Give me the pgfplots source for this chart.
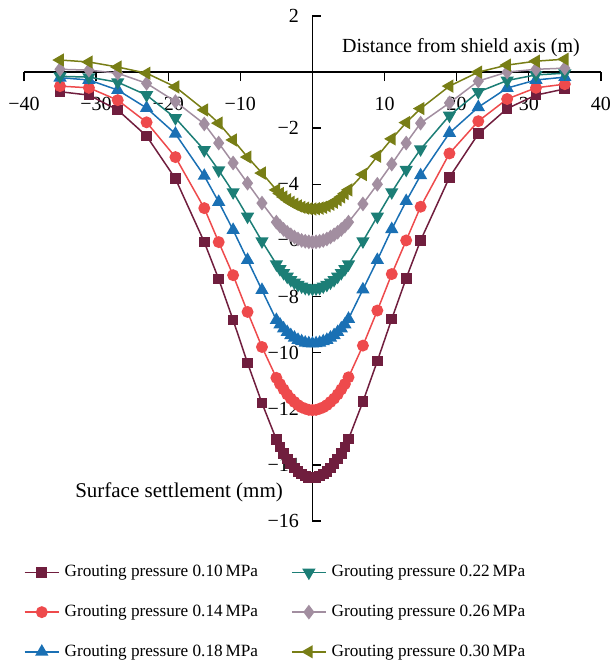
\documentclass[border=0pt]{standalone}
\usepackage{fontspec}
\setmainfont{Liberation Serif}
\usepackage{pgfplots}
\usepackage{pgfplotstable}
\pgfplotsset{compat=1.18}
\definecolor{cA}{RGB}{112,30,62}
\definecolor{cB}{RGB}{238,74,76}
\definecolor{cC}{RGB}{26,112,180}
\definecolor{cD}{RGB}{28,126,118}
\definecolor{cE}{RGB}{162,142,160}
\definecolor{cF}{RGB}{120,126,22}

\pgfplotstableread{
x a b c d e f
-35 -0.70 -0.50 -0.20 -0.15 0.10 0.43
-31 -0.82 -0.56 -0.28 -0.18 0.07 0.36
-27 -1.35 -1.00 -0.64 -0.36 -0.04 0.18
-23 -2.28 -1.79 -1.28 -0.82 -0.40 -0.04
-19 -3.80 -3.03 -2.20 -1.64 -1.05 -0.53
-15 -6.06 -4.85 -3.70 -2.78 -1.85 -1.35
-13 -7.38 -6.06 -4.63 -3.50 -2.53 -1.82
-11 -8.84 -7.24 -5.63 -4.28 -3.24 -2.42
-9 -10.37 -8.55 -6.70 -5.15 -3.96 -3.03
-7 -11.80 -9.80 -7.77 -6.03 -4.67 -3.60
-5 -13.10 -10.90 -8.84 -6.85 -5.35 -4.20
-4.5 -13.36 -11.12 -9.00 -7.02 -5.49 -4.33
-4 -13.59 -11.31 -9.14 -7.16 -5.61 -4.45
-3.5 -13.79 -11.49 -9.27 -7.29 -5.71 -4.55
-3 -13.96 -11.64 -9.38 -7.41 -5.80 -4.64
-2.5 -14.11 -11.76 -9.47 -7.50 -5.88 -4.71
-2 -14.23 -11.87 -9.55 -7.58 -5.95 -4.77
-1.5 -14.33 -11.95 -9.60 -7.64 -6.00 -4.82
-1 -14.40 -12.00 -9.65 -7.69 -6.03 -4.85
-0.5 -14.44 -12.04 -9.67 -7.71 -6.05 -4.87
0 -14.45 -12.05 -9.68 -7.72 -6.06 -4.88
0.5 -14.44 -12.04 -9.67 -7.71 -6.05 -4.87
1 -14.40 -12.00 -9.65 -7.69 -6.03 -4.85
1.5 -14.33 -11.95 -9.60 -7.64 -6.00 -4.82
2 -14.23 -11.87 -9.55 -7.58 -5.95 -4.77
2.5 -14.11 -11.76 -9.47 -7.50 -5.88 -4.71
3 -13.96 -11.64 -9.38 -7.41 -5.80 -4.64
3.5 -13.79 -11.49 -9.27 -7.29 -5.71 -4.55
4 -13.59 -11.31 -9.14 -7.16 -5.61 -4.45
4.5 -13.36 -11.12 -9.00 -7.02 -5.49 -4.33
5 -13.08 -10.88 -8.80 -6.85 -5.35 -4.20
7 -11.75 -9.75 -7.75 -6.03 -4.70 -3.65
9 -10.30 -8.50 -6.70 -5.15 -4.00 -3.00
11 -8.80 -7.20 -5.60 -4.28 -3.28 -2.38
13 -7.35 -6.00 -4.60 -3.48 -2.53 -1.80
15 -6.00 -4.80 -3.68 -2.75 -1.82 -1.30
19 -3.75 -2.90 -2.17 -1.55 -1.10 -0.50
23 -2.20 -1.75 -1.25 -0.71 -0.32 0.00
27 -1.30 -0.96 -0.57 -0.30 0.00 0.25
31 -0.82 -0.56 -0.28 -0.10 0.10 0.39
35 -0.60 -0.43 -0.18 -0.04 0.14 0.46
}\settle

\begin{document}
\begin{tikzpicture}
\begin{axis}[
  scale only axis, width=288.5pt, height=252.5pt,
  xmin=-40, xmax=40, ymin=-16, ymax=2,
  axis lines=middle, axis line style={-, line width=0.7pt},
  clip=false,
  font=\fontsize{10}{12}\selectfont,
  xtick={-40,-30,-20,-10,0,10,20,30,40},
  xticklabels={−40,−30,−20,−10,0,10,20,30,40},
  ytick={-16,-14,-12,-10,-8,-6,-4,-2,0,2},
  yticklabels={−16,−14,−12,−10,−8,−6,−4,−2,0,2},
  tick align=center, major tick length=4.5pt,
  tick style={black, line width=0.7pt},
  x tick style={yshift=-2.25pt}, y tick style={xshift=2.25pt},
  x tick label style={inner sep=0.5pt, yshift=-9.8pt},
  y tick label style={inner sep=0.5pt, xshift=-3.8pt},
  every axis plot/.append style={line width=0.75pt},
  legend columns=3, transpose legend,
  legend cell align=left,
  legend style={at={(0,-0.078)}, anchor=north west, draw=none, fill=none,
    inner sep=0pt, outer sep=0pt, font=\fontsize{8.6}{10}\selectfont,
    row sep=7.6pt,
    nodes={inner sep=2.5pt},
    /tikz/every even column/.append style={column sep=14pt}},
]
\addplot[cA, mark=square*, mark size=2.3pt] table[x=x, y=a] {\settle};
\addlegendentry{Grouting pressure 0.10\,MPa}
\addplot[cB, mark=*, mark size=2.6pt] table[x=x, y=b] {\settle};
\addlegendentry{Grouting pressure 0.14\,MPa}
\addplot[cC, mark=triangle*, mark size=3.1pt] table[x=x, y=c] {\settle};
\addlegendentry{Grouting pressure 0.18\,MPa}
\addplot[cD, mark=triangle*, mark size=3.1pt, mark options={rotate=180}] table[x=x, y=d] {\settle};
\addlegendentry{Grouting pressure 0.22\,MPa}
\addplot[cE, mark=diamond*, mark size=3.1pt] table[x=x, y=e] {\settle};
\addlegendentry{Grouting pressure 0.26\,MPa}
\addplot[cF, mark=triangle*, mark size=3.1pt, mark options={rotate=90}] table[x=x, y=f] {\settle};
\addlegendentry{Grouting pressure 0.30\,MPa}
\node[font=\fontsize{10}{12}\selectfont] at (axis cs:20.6,0.86) {Distance from shield axis (m)};
\node[font=\fontsize{10.5}{12}\selectfont] at (axis cs:-18.5,-14.97) {Surface settlement (mm)};
\path (rel axis cs:-0.0416,-0.2832) rectangle (rel axis cs:1.0208,1.0317);
\end{axis}
\end{tikzpicture}
\end{document}
